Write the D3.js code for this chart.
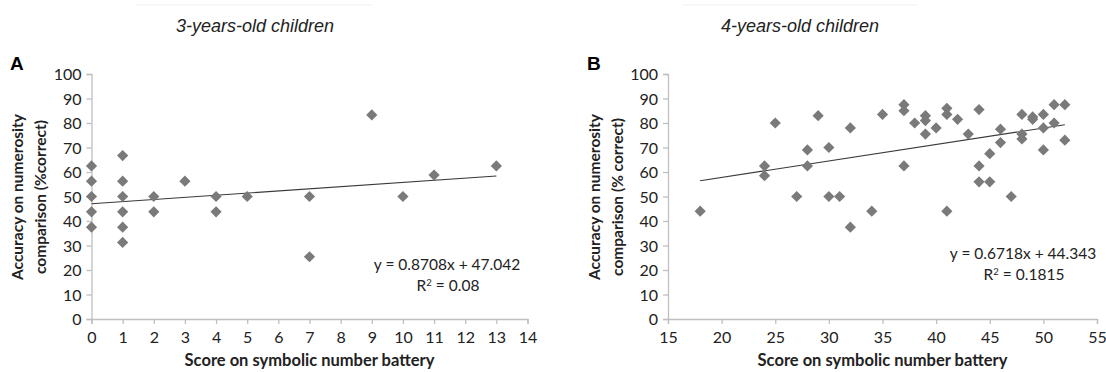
<!DOCTYPE html>
<html><head><meta charset="utf-8">
<script src="https://cdn.jsdelivr.net/npm/d3@7"></script>
<style>
html,body{margin:0;padding:0;background:#fff;}
svg{display:block;}
</style></head>
<body><svg id="chart" width="1106" height="372"></svg>
<script>
// ---- data ----
const titles = ["3-years-old children", "4-years-old children"];
const panelLabels = ["A", "B"];
const scoreA    = [0,0,0,0,0, 1,1,1,1,1,1, 2,2, 3, 4,4, 5, 7,7, 9, 10, 11, 13];
const accuracyA = [62.5,56.25,50,43.75,37.5, 66.7,56.25,50,43.75,37.5,31.25, 50,43.75, 56.25, 50,43.75, 50, 50,25.4, 83.3, 50, 58.75, 62.5];
const scoreB    = [18,24,24,25,27,28,28,29,30,30,31,32,32,34,35,37,37,37,38,39,39,39,40,41,41,41,42,43,44,44,44,45,45,46,46,47,48,48,48,49,49,50,50,50,51,51,52,52];
const accuracyB = [44,62.5,58.5,80,50,69,62.5,83,70,50,50,78,37.5,44,83.5,87.5,85,62.5,80,83,81,75.5,78,86,83.5,44,81.5,75.5,85.5,62.5,56,67.5,56,77.5,72,50,83.5,75.5,73.5,82.5,81.5,83.5,78,69,87.5,80,87.5,73];
const fitA = {slope: 0.8708, intercept: 47.042, r2: "0.08"};
const fitB = {slope: 0.6718, intercept: 44.343, r2: "0.1815"};
const xTicksA = [0,1,2,3,4,5,6,7,8,9,10,11,12,13,14];
const xTicksB = [15,20,25,30,35,40,45,50,55];
const yTicks = [0,10,20,30,40,50,60,70,80,90,100];
const xTitle = "Score on symbolic number battery";
const yTitlesA = ["Accuracy on numerosity", "comparison (%correct)"];
const yTitlesB = ["Accuracy on numerosity", "comparison (% correct)"];

const svg = d3.select("#chart");
const tickFont = "Lato, 'Open Sans', sans-serif";
const axisColor = "#bfbfbf";

function panel(cfg) {
  const g = svg.append("g");
  const x = d3.scaleLinear().domain(cfg.xDomain).range([cfg.x0, cfg.x1]);
  const y = d3.scaleLinear().domain([0, 100]).range([319, 74]);

  // faint line above title
  g.append("line").attr("x1", cfg.titleX - 118).attr("x2", cfg.titleX + 118)
    .attr("y1", 5).attr("y2", 5).attr("stroke", "#f6f6f6").attr("stroke-width", 1.5);
  g.append("text").attr("x", cfg.titleX).attr("y", 32).attr("text-anchor", "middle")
    .attr("font-family", "'Liberation Sans', Arial, sans-serif").attr("font-style", "italic")
    .attr("font-size", 18).attr("fill", "#222").text(cfg.title);
  g.append("text").attr("x", cfg.labelX).attr("y", 70)
    .attr("font-family", "'Liberation Sans', Arial, sans-serif").attr("font-weight", "bold")
    .attr("font-size", 19).attr("fill", "#000").text(cfg.label);

  // y axis
  const ya = d3.axisLeft(y).tickValues(yTicks).tickSize(5).tickPadding(5);
  const yg = g.append("g").attr("transform", `translate(${cfg.x0},0)`).call(ya);
  // x axis
  const xa = d3.axisBottom(x).tickValues(cfg.xTicks).tickSize(5).tickPadding(5);
  const xg = g.append("g").attr("transform", `translate(0,319)`).call(xa);
  [yg, xg].forEach(a => {
    a.select(".domain").attr("stroke", axisColor).attr("stroke-width", 1.3);
    a.selectAll(".tick line").attr("stroke", axisColor).attr("stroke-width", 1.3);
    a.selectAll(".tick text").attr("font-family", tickFont).attr("font-size", 16).attr("fill", "#222");
  });
  yg.selectAll(".tick text").attr("dy", "0.36em");
  xg.selectAll(".tick text").attr("dy", "0.9em");

  // titles
  g.append("text").attr("x", (cfg.x0 + cfg.x1) / 2).attr("y", 366).attr("text-anchor", "middle")
    .attr("font-family", tickFont).attr("font-weight", "bold").attr("font-size", 16.5)
    .attr("fill", "#222").text(xTitle);
  cfg.yTitles.forEach((t, i) => {
    const tx = cfg.yTitleX + i * 23;
    g.append("text").attr("transform", `translate(${tx},197) rotate(-90)`)
      .attr("text-anchor", "middle").attr("font-family", tickFont).attr("font-weight", "bold")
      .attr("font-size", 15.5).attr("fill", "#222").text(t);
  });

  // regression line
  const xs = d3.extent(cfg.xs);
  g.append("line")
    .attr("x1", x(xs[0])).attr("y1", y(cfg.fit.slope * xs[0] + cfg.fit.intercept))
    .attr("x2", x(xs[1])).attr("y2", y(cfg.fit.slope * xs[1] + cfg.fit.intercept))
    .attr("stroke", "#3a3a3a").attr("stroke-width", 1.2);

  // diamonds
  const r = 5.6;
  const diamond = `M0,${-r}L${r},0L0,${r}L${-r},0Z`;
  g.append("g").selectAll("path").data(cfg.xs.map((v, i) => [v, cfg.ys[i]])).join("path")
    .attr("d", diamond)
    .attr("transform", d => `translate(${x(d[0])},${y(d[1])})`)
    .attr("fill", "#7a7a7a");

  // equation
  g.append("text").attr("x", cfg.eqX).attr("y", cfg.eqY).attr("text-anchor", "middle")
    .attr("font-family", tickFont).attr("font-size", 15.5).attr("fill", "#222")
    .text(`y = ${cfg.fit.slope}x + ${cfg.fit.intercept}`);
  const r2 = g.append("text").attr("x", cfg.eqX + 1).attr("y", cfg.eqY + 21).attr("text-anchor", "middle")
    .attr("font-family", tickFont).attr("font-size", 15.5).attr("fill", "#222");
  r2.append("tspan").text("R");
  r2.append("tspan").attr("dy", -5).attr("font-size", 9.5).text("2");
  r2.append("tspan").attr("dy", 5).text(` = ${cfg.fit.r2}`);
}

panel({xDomain: [0, 14], x0: 91.5, x1: 527.5, xTicks: xTicksA, xs: scoreA, ys: accuracyA,
  fit: fitA, title: titles[0], titleX: 255, label: panelLabels[0], labelX: 10,
  yTitles: yTitlesA, yTitleX: 23, eqX: 447, eqY: 270});
panel({xDomain: [15, 55], x0: 668, x1: 1097, xTicks: xTicksB, xs: scoreB, ys: accuracyB,
  fit: fitB, title: titles[1], titleX: 800, label: panelLabels[1], labelX: 587,
  yTitles: yTitlesB, yTitleX: 600, eqX: 1023, eqY: 259});
</script></body></html>
